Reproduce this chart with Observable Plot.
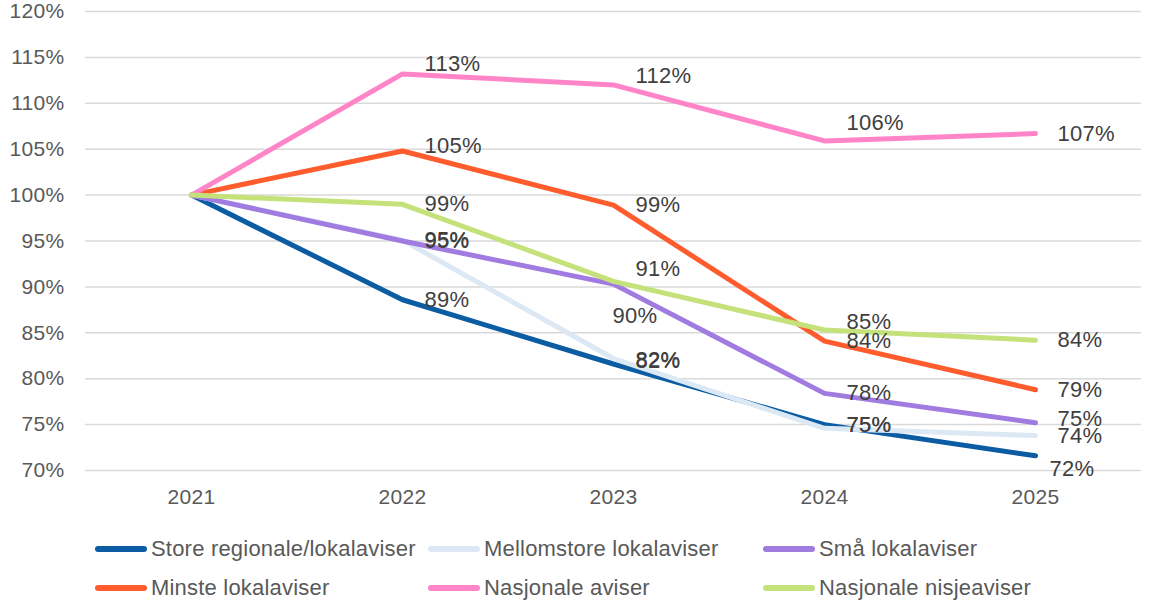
<!DOCTYPE html>
<html>
<head>
<meta charset="utf-8">
<script src="https://cdn.jsdelivr.net/npm/d3@7"></script>
<script src="https://cdn.jsdelivr.net/npm/@observablehq/plot@0.6"></script>
<style>
  body { margin: 0; background: #fff; font-family: "Liberation Sans", Arial, sans-serif; }
  #chart svg { display: block; }
  #chart svg text { letter-spacing: 0.3px; }
  .legend { position: relative; height: 90px; font-size: 22px; letter-spacing: 0.2px; color: #595959; }
  .item { position: absolute; display: flex; align-items: center; white-space: nowrap; }
  .sw { width: 52px; height: 6px; border-radius: 3px; margin-right: 4px; }
</style>
</head>
<body>
<div id="chart"></div>
<div class="legend" id="legend"></div>
<script>
const years = ["2021", "2022", "2023", "2024", "2025"];
const seriesNames = ["Store regionale/lokalaviser", "Mellomstore lokalaviser", "Små lokalaviser", "Minste lokalaviser", "Nasjonale aviser", "Nasjonale nisjeaviser"];
const colors = ["#0B5CA3", "#DCE9F5", "#A07BE0", "#FF5C2E", "#FF85C8", "#C5E17A"];
const store = [100, 88.6, 81.6, 75.0, 71.6];
const mellomstore = [100, 95.1, 82.2, 74.6, 73.8];
const smaa = [100, 95.0, 90.3, 78.4, 75.2];
const minste = [100, 104.8, 98.9, 84.1, 78.8];
const nasjonale = [100, 113.2, 112.0, 105.9, 106.7];
const nisje = [100, 99.0, 90.6, 85.3, 84.2];
const yTicks = [70, 75, 80, 85, 90, 95, 100, 105, 110, 115, 120];

// label nudges (dx, dy) in pixels for labels that the reference places away from the default spot
const labelNudge = {
  "Nasjonale aviser|2022": [0, -10],
  "Nasjonale aviser|2023": [0, -9],
  "Nasjonale aviser|2024": [0, -18],
  "Minste lokalaviser|2022": [0, -5],
  "Nasjonale nisjeaviser|2023": [0, -12],
  "Nasjonale nisjeaviser|2024": [0, -8],
  "Små lokalaviser|2023": [-23, 32],
  "Små lokalaviser|2025": [0, -4],
  "Store regionale/lokalaviser|2023": [0, -4],
  "Mellomstore lokalaviser|2023": [0, 2],
  "Mellomstore lokalaviser|2024": [0, -3],
  "Store regionale/lokalaviser|2025": [-8, 13]
};

const allSeries = [store, mellomstore, smaa, minste, nasjonale, nisje];
const data = [];
allSeries.forEach((vals, i) => vals.forEach((v, j) => data.push({series: seriesNames[i], year: years[j], value: v})));
const labelData = data.filter(d => d.year !== "2021");
const nudge = d => labelNudge[d.series + "|" + d.year] || [0, 0];

const chart = Plot.plot({
  width: 1160,
  height: 522,
  marginLeft: 85,
  marginRight: 19,
  marginTop: 11,
  marginBottom: 52,
  style: {fontFamily: "'Liberation Sans', Arial, sans-serif", fontSize: "21px", color: "#595959", background: "#fff"},
  x: {type: "point", domain: years, padding: 0.5, label: null, tickSize: 0, tickPadding: 19},
  y: {domain: [70, 120], ticks: yTicks, tickFormat: d => d + "%", label: null, tickSize: 0, tickPadding: 21},
  color: {domain: seriesNames, range: colors},
  marks: [
    Plot.gridY(yTicks, {stroke: "#d9d9d9", strokeOpacity: 1, strokeWidth: 1.5}),
    Plot.lineY(data, {x: "year", y: "value", z: "series", stroke: "series", strokeWidth: 5, strokeLinejoin: "round", strokeLinecap: "round"}),
    Plot.text(labelData, {
      x: "year", y: "value",
      text: d => Math.round(d.value) + "%",
      textAnchor: "start", fill: "#404040", fontSize: 22,
      render: (index, scales, values, dims, context, next) => {
        const g = next(index, scales, values, dims, context);
        d3.select(g).selectAll("text").each(function(_, k) {
          const d = labelData[index[k]];
          const [ndx, ndy] = nudge(d);
          d3.select(this).attr("transform", `translate(${values.x[index[k]] + 22 + ndx},${values.y[index[k]] + ndy})`);
        });
        return g;
      }
    })
  ]
});
document.getElementById("chart").appendChild(chart);

const legend = document.getElementById("legend");
const pos = [[95, 14], [428, 14], [763, 14], [95, 53], [428, 53], [763, 53]];
seriesNames.forEach((name, i) => {
  const it = document.createElement("div");
  it.className = "item";
  it.style.left = pos[i][0] + "px";
  it.style.top = pos[i][1] + "px";
  it.innerHTML = `<span class="sw" style="background:${colors[i]}"></span><span>${name}</span>`;
  legend.appendChild(it);
});
</script>
</body>
</html>
